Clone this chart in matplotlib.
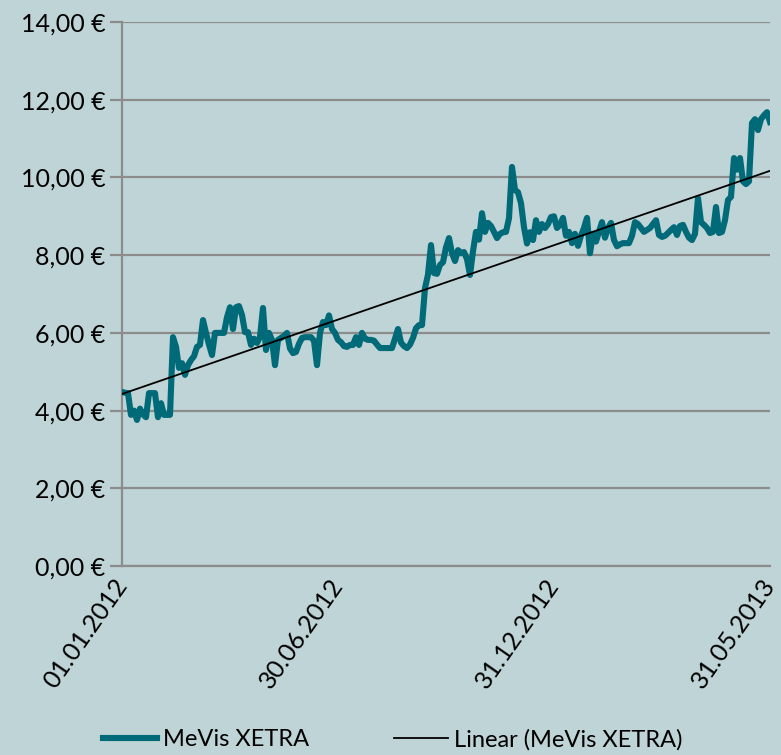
import matplotlib
matplotlib.use('Agg')
import matplotlib.pyplot as plt
import numpy as np

plt.rcParams['font.family'] = ['Lato', 'DejaVu Sans']

# MeVis XETRA closing prices (EUR), evenly spaced in time
prices = [
    4.48, 4.46, 4.45, 3.89, 4.00, 3.76, 4.05, 3.90, 3.83, 4.45,
    4.45, 4.45, 3.83, 4.19, 3.89, 3.89, 3.89, 5.89, 5.64, 5.10,
    5.22, 4.92, 5.17, 5.30, 5.40, 5.64, 5.69, 6.33, 6.00, 5.70,
    5.43, 6.00, 6.00, 6.00, 6.00, 6.40, 6.66, 6.10, 6.66, 6.69,
    6.46, 6.02, 6.02, 5.69, 5.85, 5.74, 5.90, 6.64, 5.56, 6.00,
    5.82, 5.17, 5.82, 5.87, 5.92, 6.00, 5.60, 5.48, 5.51, 5.72,
    5.87, 5.89, 5.89, 5.89, 5.80, 5.17, 6.00, 6.28, 6.20, 6.45,
    6.10, 6.00, 5.82, 5.76, 5.66, 5.64, 5.69, 5.69, 5.89, 5.69,
    6.00, 5.85, 5.82, 5.82, 5.80, 5.70, 5.61, 5.61, 5.61, 5.61,
    5.61, 5.85, 6.10, 5.75, 5.66, 5.61, 5.70, 5.87, 6.12, 6.20,
    6.20, 7.15, 7.50, 8.26, 7.54, 7.52, 7.75, 7.82, 8.20, 8.44,
    8.05, 7.85, 8.13, 8.05, 8.08, 7.90, 7.49, 8.10, 8.60, 8.40,
    9.08, 8.60, 8.83, 8.75, 8.60, 8.44, 8.55, 8.59, 8.60, 8.95,
    10.27, 9.68, 9.62, 9.34, 8.72, 8.30, 8.59, 8.39, 8.90, 8.60,
    8.80, 8.70, 8.80, 8.98, 9.00, 8.70, 8.78, 8.96, 8.50, 8.60,
    8.31, 8.55, 8.24, 8.50, 8.70, 8.96, 8.05, 8.55, 8.35, 8.60,
    8.85, 8.45, 8.70, 8.83, 8.39, 8.23, 8.28, 8.31, 8.31, 8.31,
    8.50, 8.85, 8.80, 8.70, 8.60, 8.65, 8.70, 8.80, 8.90, 8.52,
    8.47, 8.50, 8.57, 8.65, 8.72, 8.52, 8.75, 8.78, 8.60, 8.45,
    8.39, 8.55, 9.47, 8.85, 8.78, 8.70, 8.57, 8.60, 9.24, 8.57,
    8.60, 8.90, 9.42, 9.50, 10.50, 10.20, 10.50, 9.90, 9.83, 9.90,
    11.40, 11.50, 11.22, 11.50, 11.60, 11.68, 11.43,
]
date_labels = ['01.01.2012', '30.06.2012', '31.12.2012', '31.05.2013']
y_ticks = [0, 2, 4, 6, 8, 10, 12, 14]

bg = '#bfd4d6'
teal = '#006a78'
grid_col = '#8c8c8c'

x = np.arange(len(prices))
slope, intercept = np.polyfit(x, prices, 1)
trend = slope * x + intercept

fig = plt.figure(figsize=(7.81, 7.55), dpi=100, facecolor=bg)
ax = fig.add_axes([0.1562, 0.2503, 0.8297, 0.7205], facecolor=bg)

ax.plot(x, prices, color=teal, linewidth=4.4, solid_joinstyle='round',
        label='MeVis XETRA', zorder=3)
ax.plot(x, trend, color='black', linewidth=1.3, label='Linear (MeVis XETRA)', zorder=4)

ax.set_xlim(0, len(prices) - 1)
ax.set_ylim(0, 14)
ax.set_yticks(y_ticks)
ax.set_yticklabels([f'{v:.2f} €'.replace('.', ',') for v in y_ticks], fontsize=18)
ax.yaxis.grid(True, color=grid_col, linewidth=1.6)
ax.set_axisbelow(True)

tick_pos = np.linspace(0, len(prices) - 1, len(date_labels))
ax.set_xticks(tick_pos)
ax.set_xticklabels(date_labels, fontsize=18, rotation=55, ha='right', va='center',
                   rotation_mode='anchor')
ax.tick_params(axis='x', length=0, pad=11)
ax.tick_params(axis='y', length=9, width=1.6, color=grid_col, pad=3)

for s in ['top', 'right']:
    ax.spines[s].set_visible(False)
ax.spines['left'].set_color(grid_col)
ax.spines['left'].set_linewidth(1.6)
ax.spines['bottom'].set_color(grid_col)
ax.spines['bottom'].set_linewidth(1.6)

fig.legend(loc='lower center', bbox_to_anchor=(0.503, -0.022), ncol=2, frameon=False,
           fontsize=17, handlelength=2.3, handletextpad=0.25, columnspacing=3.6)

fig.savefig('out.png', dpi=100, facecolor=bg)
